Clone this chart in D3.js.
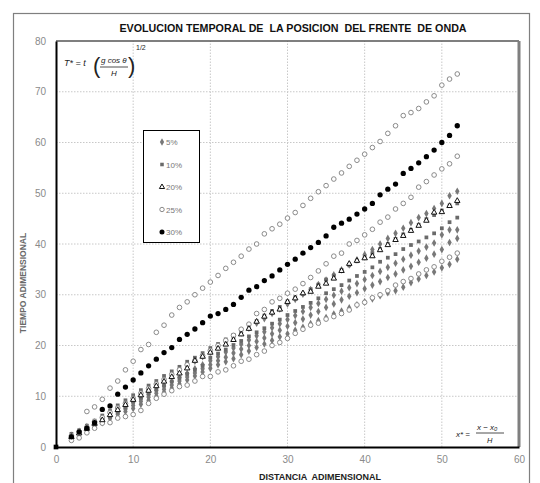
<!DOCTYPE html>
<html><head><meta charset="utf-8">
<script src="https://cdn.jsdelivr.net/npm/d3@7"></script>
<style>body{margin:0;background:#fff}svg{display:block}text{font-family:"Liberation Sans",Arial,sans-serif}</style>
</head><body>
<svg id="c" width="540" height="483"></svg>
<script>
// x positions (distancia adimensional)
const xs = d3.range(2, 53);
// 5% (diamonds) - four runs
const s5a = [2.3,3.1,4.0,4.9,5.8,6.7,7.6,8.6,9.5,10.4,11.3,12.2,13.2,14.1,15.0,15.9,16.9,17.8,18.7,19.6,20.6,21.5,22.5,23.4,24.4,25.3,26.3,27.2,28.2,29.1,30.1,31.0,32.0,32.9,33.9,34.9,35.9,36.9,37.9,38.9,40.0,41.1,42.1,43.1,44.2,45.2,46.0,47.0,48.0,49.5,50.4];
const s5b = [2.2,2.9,3.7,4.6,5.4,6.2,7.1,7.9,8.7,9.5,10.4,11.2,12.0,12.9,13.7,14.5,15.4,16.2,17.0,17.8,18.7,19.5,20.3,21.1,21.9,22.7,23.5,24.3,25.1,25.9,26.7,27.5,28.3,29.1,29.9,30.7,31.4,32.2,33.0,33.8,34.6,35.4,36.2,37.0,37.8,38.6,39.4,40.2,41.8,42.8,42.8];
const s5c = [2.0,2.7,3.5,4.3,5.1,5.9,6.7,7.5,8.2,9.0,9.8,10.6,11.4,12.2,13.0,13.8,14.6,15.4,16.2,17.0,17.7,18.5,19.3,20.0,20.8,21.5,22.3,23.0,23.8,24.5,25.2,26.0,26.7,27.5,28.2,29.0,29.7,30.4,31.2,31.9,32.6,33.4,34.1,34.9,35.6,36.4,37.2,38.0,38.9,40.3,41.1];
const s5d = [1.8,2.5,3.2,4.1,4.8,5.6,6.4,7.0,7.6,8.4,9.2,10.0,10.8,11.6,12.4,13.2,14.0,14.8,15.5,16.2,16.8,17.4,18.2,18.9,19.6,20.3,21.0,21.7,22.3,23.0,23.6,24.3,24.9,25.5,26.2,26.8,27.4,28.0,28.6,29.2,29.8,30.4,30.8,31.5,32.4,33.1,33.8,34.5,35.3,36.0,37.0];
// 10% (squares) - two runs
const s10a = [2.6,3.3,4.2,5.2,6.2,7.1,8.2,9.2,10.2,11.2,12.1,13.0,14.0,14.9,15.8,16.8,17.6,18.5,19.5,20.3,21.2,22.1,23.0,24.0,24.8,25.9,26.8,27.6,28.7,29.5,30.2,31.1,32.0,33.0,33.8,34.9,35.8,36.6,37.4,38.2,39.0,40.0,41.0,41.9,42.8,43.8,44.9,45.7,46.6,47.6,48.0];
const s10b = [2.1,2.8,3.6,4.4,5.3,6.1,7.0,7.8,9.0,9.7,10.5,11.3,12.1,12.9,13.6,14.4,15.2,16.0,17.6,18.4,19.2,20.1,20.9,21.8,22.6,23.4,24.3,25.1,26.0,26.8,27.6,28.4,29.3,30.3,31.1,31.9,32.8,33.7,34.5,35.4,36.5,37.3,38.0,39.0,39.8,40.5,41.3,42.1,43.1,44.3,45.2];
// 20% (triangles)
const s20 = [2.0,2.7,3.6,4.6,5.3,6.3,7.3,8.3,9.3,10.2,11.1,12.0,12.9,13.8,14.5,15.5,17.0,17.8,18.6,19.4,20.2,21.1,22.2,23.3,24.7,25.7,26.5,27.1,28.6,29.3,30.3,30.6,31.6,32.2,33.2,34.7,36.1,36.7,37.2,37.6,38.8,39.8,40.8,41.6,42.6,43.6,44.6,46.2,46.3,47.5,48.5];
// 25% (open circles) - three runs
const s25a = [null,null,7.0,7.9,9.4,11.6,13.0,15.2,16.9,19.2,20.2,22.6,24.0,26.0,27.5,28.6,30.0,31.3,32.5,33.8,35.2,36.4,37.6,39.0,40.0,42.0,43.0,43.9,45.1,46.2,47.6,49.0,50.3,51.5,52.8,54.0,55.3,56.5,57.7,59.0,60.2,61.8,63.3,65.3,65.9,66.7,68.0,69.2,71.3,72.5,73.5];
const s25b = [2.2,3.0,3.9,5.0,5.8,6.8,7.7,8.6,9.6,10.6,11.5,12.4,13.3,14.3,15.2,16.2,17.0,18.0,19.0,20.0,21.0,22.0,23.2,24.2,26.3,27.1,28.6,29.3,30.3,31.1,32.2,33.4,34.7,36.1,37.6,38.2,40.0,40.7,41.8,42.9,44.3,45.3,46.9,48.0,49.2,51.2,52.3,53.6,54.8,55.8,57.3];
const s25c = [1.3,1.8,2.8,3.7,4.7,4.8,5.7,6.0,6.4,7.2,8.6,9.6,10.4,11.1,11.9,12.2,13.0,13.9,13.9,14.8,15.2,16.0,16.9,17.3,18.2,18.9,20.0,20.6,21.4,22.4,23.2,24.0,24.4,25.2,25.7,26.3,27.0,28.0,28.5,29.4,30.0,30.8,31.9,32.6,33.2,34.1,34.9,35.5,36.6,37.4,38.2];
// 30% (filled circles)
const s30 = [2.0,3.0,3.7,4.8,7.4,8.1,10.4,11.8,13.2,14.6,16.0,17.3,18.6,19.6,21.2,22.2,23.25,24.5,25.8,26.3,27.1,28.1,29.5,30.9,31.6,32.8,33.7,34.9,36.0,37.0,38.2,39.3,40.3,41.6,43.3,44.1,44.9,45.9,46.9,48.0,49.7,50.8,51.8,53.9,54.9,56.0,57.2,58.5,60.0,61.4,63.3];
const origin = [[0,0]];

const legendLabels = ["5%","10%","20%","25%","30%"];
const xTicks = [0,10,20,30,40,50,60];
const yTicks = [0,10,20,30,40,50,60,70,80];

const svg = d3.select("#c");
const x = d3.scaleLinear().domain([0,60]).range([56,519]);
const y = d3.scaleLinear().domain([0,80]).range([447,41]);

// outer frame
svg.append("rect").attr("x",13.5).attr("y",13.5).attr("width",516).attr("height",480)
  .attr("fill","none").attr("stroke","#7f7f7f").attr("stroke-width",1.2);

// grid
svg.append("g").selectAll("line").data(xTicks.filter(d=>d>0&&d<60)).join("line")
  .attr("x1",d=>x(d)).attr("x2",d=>x(d)).attr("y1",y(0)).attr("y2",y(80))
  .attr("stroke","#c8c8c8").attr("stroke-dasharray","1.5,1.5");
svg.append("g").selectAll("line").data(yTicks.filter(d=>d>0&&d<80)).join("line")
  .attr("x1",x(0)).attr("x2",x(60)).attr("y1",d=>y(d)).attr("y2",d=>y(d))
  .attr("stroke","#c8c8c8").attr("stroke-dasharray","1.5,1.5");

// plot borders (top / right)
svg.append("line").attr("x1",x(0)).attr("x2",x(60)).attr("y1",y(80)).attr("y2",y(80)).attr("stroke","#555").attr("stroke-width",1.5);
svg.append("line").attr("x1",x(60)).attr("x2",x(60)).attr("y1",y(80)).attr("y2",y(0)).attr("stroke","#7f7f7f").attr("stroke-width",3);

// axes
const xAxis = svg.append("g").attr("transform",`translate(0,${y(0)})`)
  .call(d3.axisBottom(x).tickValues(xTicks).tickSize(0).tickPadding(9));
const yAxis = svg.append("g").attr("transform",`translate(${x(0)},0)`)
  .call(d3.axisLeft(y).tickValues(yTicks).tickSize(0).tickPadding(10));
[xAxis,yAxis].forEach(a=>{
  a.select(".domain").attr("stroke","#000").attr("stroke-width",2);
  a.selectAll("text").attr("fill","#8a8a8a").attr("font-size","10px").attr("font-family","Liberation Sans, Arial, sans-serif");
});

// series
const markers = {
  diamond:{sym:d3.symbolDiamond,size:17,fill:"#787878",stroke:"none",sw:0},
  square:{sym:d3.symbolSquare,size:14,fill:"#6a6a6a",stroke:"none",sw:0},
  triangle:{sym:d3.symbolTriangle,size:13,fill:"#fff",stroke:"#111",sw:1},
  open:{sym:d3.symbolCircle,size:17,fill:"#fff",stroke:"#8a8a8a",sw:1},
  filled:{sym:d3.symbolCircle,size:22,fill:"#000",stroke:"none",sw:0}
};
const seriesList = [
  [s5d,"diamond"],[s5c,"diamond"],[s5b,"diamond"],[s5a,"diamond"],
  [s10b,"square"],[s10a,"square"],
  [s25c,"open"],[s25b,"open"],[s25a,"open"],
  [s20,"triangle"],
  [s30,"filled"]
];
seriesList.forEach(([vals,m])=>{
  const mk = markers[m];
  const pts = xs.map((xv,i)=>[xv,vals[i]]).filter(p=>p[1]!=null);
  svg.append("g").selectAll("path").data(pts).join("path")
    .attr("transform",p=>`translate(${x(p[0])},${y(p[1])})`)
    .attr("d",d3.symbol(mk.sym,mk.size))
    .attr("fill",mk.fill).attr("stroke",mk.stroke).attr("stroke-width",mk.sw);
});
svg.append("g").selectAll("path").data(origin).join("path")
  .attr("transform",p=>`translate(${x(p[0])},${y(p[1])})`)
  .attr("d",d3.symbol(d3.symbolSquare,22)).attr("fill","#000");

// legend
const lg = svg.append("g");
lg.append("rect").attr("x",143.5).attr("y",130.5).attr("width",56).attr("height",112)
  .attr("fill","#fff").attr("stroke","#000").attr("stroke-width",1);
const lgKeys = ["diamond","square","triangle","open","filled"];
legendLabels.forEach((lab,i)=>{
  const yy = 142 + i*22.5;
  const mk = markers[lgKeys[i]];
  lg.append("path").attr("transform",`translate(162,${yy})`)
    .attr("d",d3.symbol(mk.sym,mk.size*0.9)).attr("fill",mk.fill).attr("stroke",mk.stroke).attr("stroke-width",mk.sw);
  lg.append("text").attr("x",166).attr("y",yy+3).attr("font-size","8px").attr("fill","#777").text(lab);
});

// title and axis titles
svg.append("text").attr("x",293).attr("y",32).attr("text-anchor","middle")
  .attr("font-size","10.7px").attr("font-weight","bold").attr("fill","#111").style("white-space","pre")
  .text("EVOLUCION TEMPORAL DE  LA POSICION  DEL FRENTE  DE ONDA");
svg.append("text").attr("transform","translate(26,283) rotate(-90)").attr("text-anchor","middle")
  .attr("font-size","8.5px").attr("font-weight","bold").attr("fill","#6a6a6a").text("TIEMPO ADIMENSIONAL");
svg.append("text").attr("x",320).attr("y",480).attr("text-anchor","middle")
  .attr("font-size","9px").attr("font-weight","bold").attr("fill","#222").style("white-space","pre")
  .text("DISTANCIA  ADIMENSIONAL");

// formula top-left
const f1 = svg.append("g").attr("font-family","Liberation Serif, Times New Roman, serif").attr("fill","#222");
f1.append("text").attr("x",64).attr("y",66).attr("font-size","9px").attr("font-style","italic").text("T* = t");
f1.append("text").attr("x",93).attr("y",73).attr("font-size","22px").text("(");
f1.append("text").attr("x",101).attr("y",63).attr("font-size","8px").attr("font-style","italic").text("g cos θ");
f1.append("line").attr("x1",100).attr("x2",128).attr("y1",67).attr("y2",67).attr("stroke","#222").attr("stroke-width",0.8);
f1.append("text").attr("x",111).attr("y",76).attr("font-size","8px").attr("font-style","italic").text("H");
f1.append("text").attr("x",128).attr("y",73).attr("font-size","22px").text(")");
f1.append("text").attr("x",136).attr("y",50).attr("font-size","7px").text("1/2");

// formula bottom-right
const f2 = svg.append("g").attr("font-family","Liberation Serif, Times New Roman, serif").attr("fill","#222").attr("font-style","italic");
f2.append("text").attr("x",456).attr("y",437).attr("font-size","8px").text("x* =");
f2.append("text").attr("x",477).attr("y",430).attr("font-size","8px").text("x − x₀");
f2.append("line").attr("x1",476).attr("x2",504).attr("y1",433).attr("y2",433).attr("stroke","#222").attr("stroke-width",0.8);
f2.append("text").attr("x",487).attr("y",443).attr("font-size","7.5px").text("H");
</script>
</body></html>
